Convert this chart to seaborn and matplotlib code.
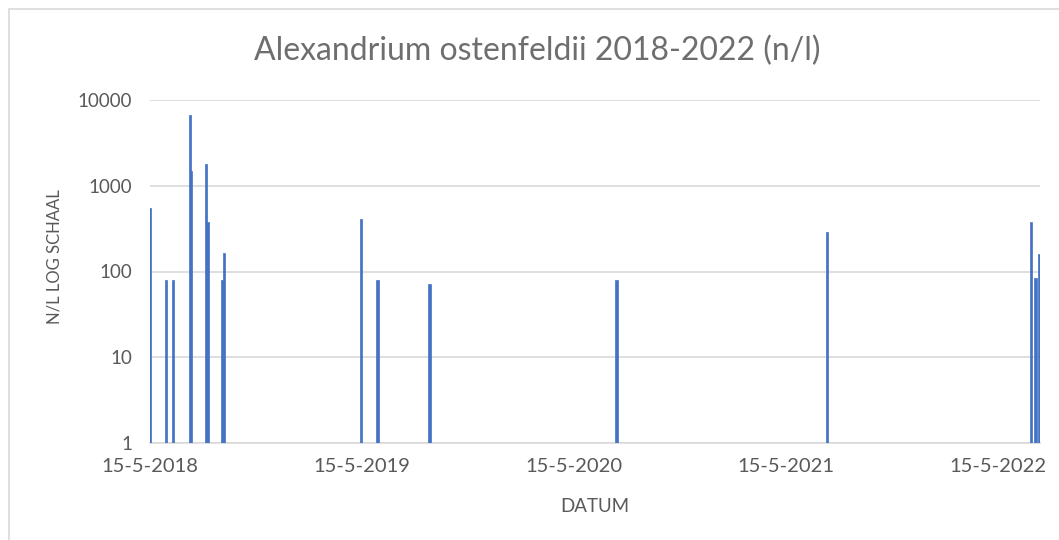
import pandas as pd
import matplotlib.pyplot as plt
import matplotlib.dates as mdates
from matplotlib.patches import Rectangle
import seaborn as sns

# ---- data ----
datums = ["2018-05-15", "2018-06-11", "2018-06-24", "2018-07-23", "2018-07-25",
          "2018-08-20", "2018-08-22", "2018-09-16", "2018-09-19", "2019-05-14",
          "2019-06-11", "2019-09-09", "2020-07-27", "2021-07-25", "2022-07-12",
          "2022-07-19", "2022-07-26"]
aantallen = [550, 80, 80, 6700, 1500,
             1800, 375, 80, 165, 410,
             80, 72, 80, 290, 380,
             84, 162]
tick_datums = ["2018-05-15", "2019-05-15", "2020-05-15", "2021-05-15", "2022-05-15"]
tick_labels = ["15-5-2018", "15-5-2019", "15-5-2020", "15-5-2021", "15-5-2022"]
y_ticks = [1, 10, 100, 1000, 10000]

df = pd.DataFrame({"datum": pd.to_datetime(datums), "n": aantallen})
df["x"] = mdates.date2num(df["datum"])

sns.set_theme(style="white")
plt.rcParams["font.family"] = ["Lato", "DejaVu Sans"]
grijs = "#595959"
lijn = "#d9d9d9"
blauw = "#4472C4"

fig = plt.figure(figsize=(10.59, 5.4), dpi=100)
ax = fig.add_axes([150 / 1059, 1 - 443 / 540, 890 / 1059, 343 / 540])

sns.barplot(data=df, x="x", y="n", native_scale=True, color=blauw,
            saturation=1, width=2.0, linewidth=0.5, edgecolor=blauw, ax=ax,
            errorbar=None, log_scale=(False, True), zorder=3)

ax.set_yscale("log")
ax.set_ylim(1, 10000)
ax.set_yticks(y_ticks)
ax.set_yticklabels([str(v) for v in y_ticks])
ax.minorticks_off()
ax.set_xlim(df["x"].min(), df["x"].max() + 1)
ax.set_xticks(mdates.date2num(pd.to_datetime(tick_datums)))
ax.set_xticklabels(tick_labels)

ax.grid(axis="y", color=lijn, linewidth=1.2, zorder=0)
ax.set_axisbelow(True)
for s in ["left", "right", "top"]:
    ax.spines[s].set_visible(False)
ax.spines["bottom"].set_color(lijn)
ax.spines["bottom"].set_linewidth(1.2)
ax.tick_params(axis="x", colors=lijn, length=6, width=1.2, direction="out",
               labelcolor=grijs, labelsize=14.5, pad=5)
ax.tick_params(axis="y", length=0, labelcolor=grijs, labelsize=13.5, pad=13)

ax.set_xlabel("DATUM", color=grijs, fontsize=13.5)
ax.xaxis.set_label_coords(0.5, (443 - 506) / 343)
ax.xaxis.label.set_va("center")
ax.set_ylabel("N/L LOG SCHAAL", color=grijs, fontsize=12)
ax.yaxis.set_label_coords((54 - 150) / 890, (443 - 257) / 343)
ax.yaxis.label.set_va("center")

fig.text(537 / 1059, 1 - 51 / 540, "Alexandrium ostenfeldii 2018-2022 (n/l)",
         ha="center", va="center", fontsize=23, color="#6e6e6e")

# chart border
fig.patches.append(Rectangle((9 / 1059, -0.01), 1.1, 1 - 9 / 540 + 0.01,
                             transform=fig.transFigure, fill=False,
                             edgecolor=lijn, linewidth=1.2))

fig.savefig("out.png", dpi=100)
